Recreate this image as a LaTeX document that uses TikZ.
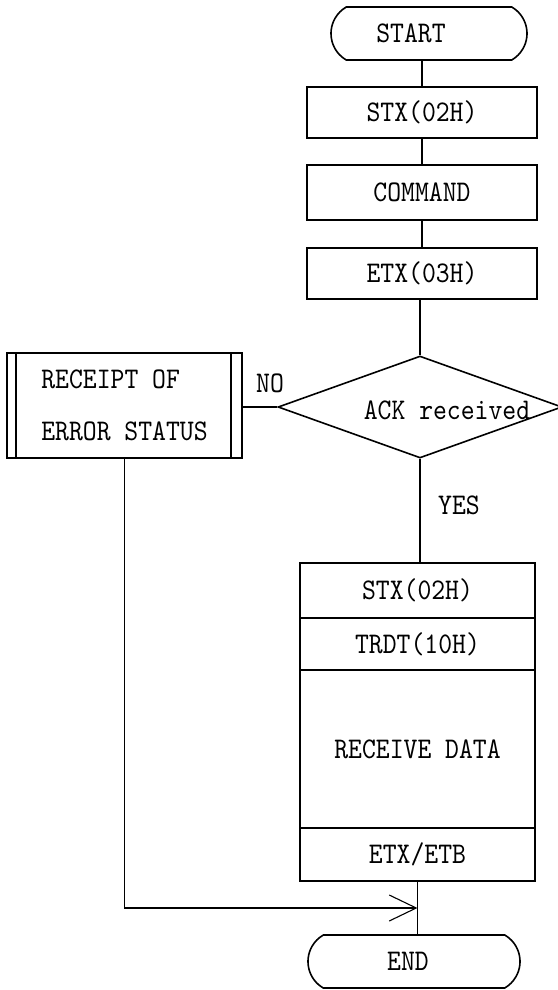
\documentclass[tikz,border=0pt]{standalone}
\usepackage{fontspec}
\usetikzlibrary{shapes.geometric,shapes.misc,arrows.meta}
\newfontfamily\flowfamily[Extension=.otf,FakeStretch=0.88]{lmmono10-regular}
\newcommand{\flowfont}{\flowfamily\fontsize{30}{52}\selectfont}
\begin{document}
\begin{tikzpicture}[x=1pt,y=-1pt,
  every node/.style={font=\flowfont, inner sep=0pt},
  term/.style={draw, line width=1.6pt, rounded rectangle,
    rounded rectangle arc length=120, minimum width=#1, minimum height=53pt},
  box/.style={draw, line width=1.6pt, minimum width=#1},
  conn/.style={line width=1.1pt},
  barb/.style={-{Straight Barb[length=27pt,width=26pt,line width=1.1pt]}}
]
\useasboundingbox (0,0) rectangle (557,990);

% main column
\node[term=196pt] (start) at (429,33.5) {START\hspace*{36pt}};
\node[box=230pt, minimum height=51pt] (stx) at (422,112.5) {STX(02H)};
\node[box=230pt, minimum height=55pt] (cmd) at (422,192.5) {COMMAND};
\node[box=230pt, minimum height=51pt] (etx) at (422,273.5) {ETX(03H)};

% decision
\node[draw, diamond, line width=1.6pt, minimum width=284pt, minimum height=102pt] (ack) at (420,407) {};
\node (ackt) at (447,410) {ACK received};

% error branch (predefined process box)
\node[box=235pt, minimum height=105pt, align=left] (err) at (124.5,405.5) {RECEIPT OF\\ERROR STATUS};
\draw[line width=1.6pt] ([xshift=10pt]err.north west) -- ([xshift=10pt]err.south west);
\draw[line width=1.6pt] ([xshift=-12pt]err.north east) -- ([xshift=-12pt]err.south east);

% received frame
\node[box=235pt, minimum height=55pt] (bstx) at (417.5,590.5) {STX(02H)};
\node[box=235pt, minimum height=52pt] (btrdt) at (417.5,644) {TRDT(10H)};
\node[box=235pt, minimum height=158pt] (bdata) at (417.5,749) {RECEIVE DATA};
\node[box=235pt, minimum height=53pt] (betb) at (417.5,854.5) {ETX/ETB};

\node[term=212pt] (endn) at (414,961.5) {END\hspace*{12pt}};

% labels
\node (no) at (270,383) {NO};
\node (yes) at (459,505) {YES};

% connectors
\draw[conn] (stx.north |- start.south) -- (stx.north);
\draw[conn] (stx.south) -- (cmd.north);
\draw[conn] (cmd.south) -- (etx.north);
\draw[conn] (ack.north |- etx.south) -- (ack.north);
\draw[conn] (err.east |- ack.west) -- (ack.west);
\draw[conn] (ack.south) -- (ack.south |- bstx.north);
\coordinate (join) at (417.5,908);
\draw[conn] (betb.south) -- (betb.south |- endn.north);
\draw[conn,barb] (err.south) |- (join);
\end{tikzpicture}
\end{document}
